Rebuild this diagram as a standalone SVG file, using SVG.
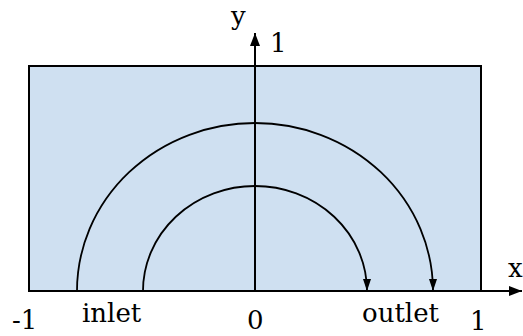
<svg xmlns="http://www.w3.org/2000/svg" width="523" height="336" viewBox="0 0 523 336">
<defs>
<style>
.lbl{font-family:"DejaVu Serif","Liberation Serif",serif;font-size:26px;fill:#000}
.ln{fill:none;stroke:#000}
</style>
<marker id="ah" markerWidth="14" markerHeight="12" refX="13" refY="5" orient="auto" markerUnits="userSpaceOnUse">
<path d="M0,0 L13,5 L0,10 Z" fill="#000"/>
</marker>
<marker id="sh" markerWidth="13" markerHeight="9" refX="12" refY="4" orient="auto" markerUnits="userSpaceOnUse">
<path d="M0,0 L12,4 L0,8 Z" fill="#000"/>
</marker>
</defs>
<g id="domain">
<rect x="29" y="66" width="452" height="225" fill="#cfe0f1" stroke="#000" stroke-width="2"/>
</g>
<g id="connectors">
<line class="ln" x1="255" y1="291" x2="255" y2="33" stroke-width="2" marker-end="url(#ah)"/>
<line class="ln" x1="29" y1="291" x2="522" y2="291" stroke-width="2" marker-end="url(#ah)"/>
<path class="ln" d="M77,291 A178,168 0 0 1 433,291" stroke-width="1.8" marker-end="url(#sh)"/>
<path class="ln" d="M143,291 A112,105 0 0 1 367,291" stroke-width="1.8" marker-end="url(#sh)"/>
</g>
<g id="labels">
<text class="lbl" x="231" y="25">y</text>
<text class="lbl" x="270" y="52">1</text>
<text class="lbl" x="508" y="277">x</text>
<text class="lbl" x="12" y="329">-1</text>
<text class="lbl" x="82" y="322">inlet</text>
<text class="lbl" x="247" y="329">0</text>
<text class="lbl" x="362" y="322">outlet</text>
<text class="lbl" x="470" y="330">1</text>
</g>
</svg>
